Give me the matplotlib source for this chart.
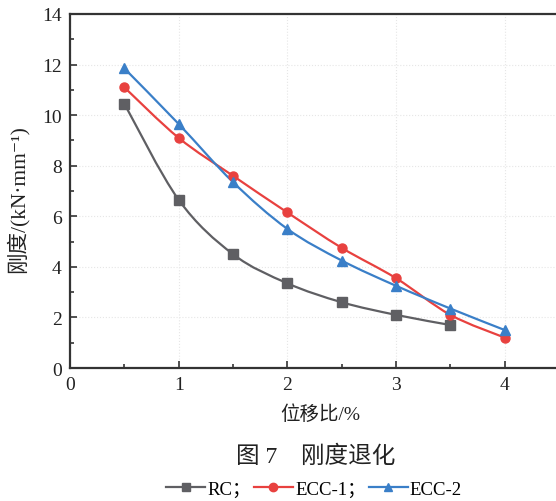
import numpy as np
import matplotlib
matplotlib.use("Agg")
import matplotlib.pyplot as plt
from matplotlib.path import Path
from matplotlib.patches import PathPatch

plt.rcParams['font.family'] = ['Liberation Serif', 'Noto Sans CJK SC', 'DejaVu Sans']

# data
drift = [0.5, 1.0, 1.5, 2.0, 2.5, 3.0, 3.5, 4.0]
rc = [10.45, 6.65, 4.5, 3.35, 2.6, 2.1, 1.7]
ecc1 = [11.1, 9.1, 7.6, 6.15, 4.75, 3.55, 2.1, 1.2]
ecc2 = [11.85, 9.65, 7.35, 5.5, 4.25, 3.25, 2.35, 1.5]
names = ["RC；", "ECC-1；", "ECC-2"]
colors = ["#5f5f63", "#e8413f", "#3a7fc8"]
markers = ["s", "o", "^"]


def smooth_path(x, y):
    # catmull-rom through the points, as cubic bezier segments
    p = np.column_stack([np.asarray(x, float), np.asarray(y, float)])
    verts = [p[0]]
    codes = [Path.MOVETO]
    n = len(p)
    for i in range(n - 1):
        p0 = p[i - 1] if i > 0 else p[i]
        p1 = p[i]
        p2 = p[i + 1]
        p3 = p[i + 2] if i + 2 < n else p[i + 1]
        verts += [p1 + (p2 - p0) / 6.0, p2 - (p3 - p1) / 6.0, p2]
        codes += [Path.CURVE4] * 3
    return Path(verts, codes)


fig = plt.figure(figsize=(5.56, 5.02), dpi=100)
ax = fig.add_axes([70 / 556, 133 / 502, 500 / 556, 354 / 502])

for vals, c, m, lab in zip([rc, ecc1, ecc2], colors, markers, names):
    xs = drift[:len(vals)]
    ax.add_patch(PathPatch(smooth_path(xs, vals), facecolor="none",
                           edgecolor=c, lw=1.6, zorder=3))
    ms = 7.5 if m == "^" else 6.5
    ax.plot(xs, vals, ls="none", marker=m, color=c, ms=ms, zorder=4)
    ax.plot([], [], color=c, marker=m, ms=6, lw=1.6, label=lab)

ax.set_xlim(0, 4.6)
ax.set_ylim(0, 14)
ax.set_xticks([0, 1, 2, 3, 4])
ax.set_xticks(np.arange(0.5, 4.6, 1.0), minor=True)
ax.set_yticks(range(0, 15, 2))
ax.set_yticks(range(1, 14, 2), minor=True)
ax.tick_params(which="both", direction="in", width=1.2, colors="#333333",
               labelcolor="#222222", labelsize=14)
ax.tick_params(which="major", length=5, pad=6)
ax.tick_params(which="minor", length=3)
ax.grid(True, which="major", ls=":", color="#e6e6e6", lw=0.8)
for s in ["left", "bottom", "top"]:
    ax.spines[s].set_linewidth(1.6)
    ax.spines[s].set_color("#333333")
ax.spines["right"].set_visible(False)

ax.set_xlabel("位移比/%", fontsize=14, labelpad=8, color="#222222")
ax.set_ylabel("刚度/(kN·mm⁻¹)", fontsize=15.5, color="#222222")
ax.yaxis.set_label_coords(-0.082, 0.48)

fig.text(316 / 556, 1 - 457 / 502, "图 7　刚度退化", ha="center", va="center",
         fontsize=17, color="#222222")

fig.legend(loc="center", bbox_to_anchor=(314 / 556, 1 - 490 / 502), ncol=3,
           frameon=False, fontsize=13.5, handlelength=2.1, handletextpad=0.1,
           columnspacing=0.15, borderpad=0)

fig.savefig("out.png", dpi=100)
